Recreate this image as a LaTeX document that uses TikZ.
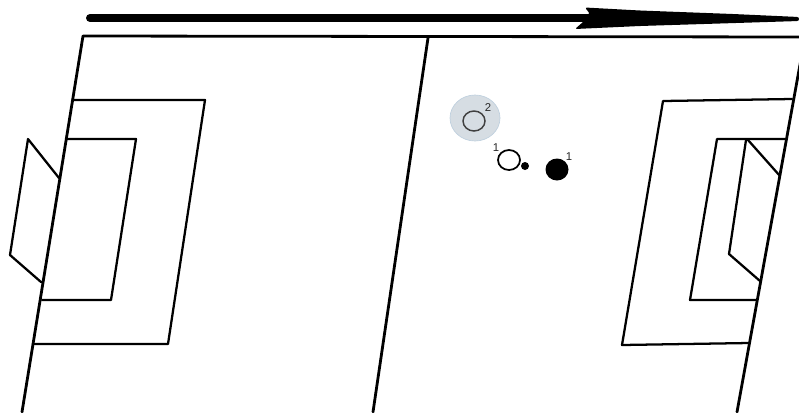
\documentclass[tikz,border=0pt]{standalone}
\usepackage{fontspec}
\setmainfont{Liberation Sans}
\definecolor{halofill}{HTML}{D6DDE3}
\definecolor{haloedge}{HTML}{BFD0DE}
\tikzset{
  wall/.style={draw=black,line width=2.1pt,line cap=round,line join=round},
  frame/.style={draw=black,line width=1.7pt,line cap=round,line join=round},
  sup/.style={font=\fontsize{8.5}{9}\selectfont,text=black!85,inner sep=0pt},
  ring/.style={draw=black!75,line width=1.1pt}
}
\begin{document}
\begin{tikzpicture}[x=0.75pt,y=-0.75pt]
\useasboundingbox (0,0) rectangle (799,412);
\begin{scope}
\clip (0,0) rectangle (799,412);
% direction arrow
\coordinate (arrowstart) at (90,18);
\coordinate (arrowend) at (590,18);
\draw[black,line width=6pt,line cap=round] (arrowstart) -- (arrowend);
\fill[black,rounded corners=1.5pt] (585,7.5) -- (640,10.5) -- (733,14) -- (799,17) -- (799,21) -- (720,23.5) -- (640,26) -- (575,29) -- (583,22) -- (590,14) -- cycle;
% walls
\coordinate (tl) at (83,36);
\coordinate (tr) at (805,37);
\coordinate (bl) at (22,412);
\coordinate (tm) at (428,38);
\coordinate (bm) at (373,412);
\coordinate (br) at (737,412);
\draw[wall] (bl) -- (tl) -- (tr);
\draw[wall] (tm) -- (bm);
\draw[wall] (tr) -- (br);
% left window
\draw[frame] (73,100) -- (205,100) -- (168,344) -- (33,344);
\draw[frame] (67,139) -- (136,139) -- (111,300) -- (42,300);
\draw[frame] (59,178) -- (28,139) -- (10,255) -- (41,282);
% right window
\draw[frame] (792,99) -- (663,101) -- (622,345) -- (749,343);
\draw[frame] (785,139) -- (717,139) -- (690,300) -- (757,300);
\draw[frame] (780,176) -- (748,140);
\draw[frame] (746,140) -- (729,254) -- (760,281);
\end{scope}
% symbols
\fill[halofill,draw=haloedge,line width=0.5pt] (475,118) ellipse [x radius=25,y radius=23];
\draw[ring] (474,121) ellipse [x radius=11,y radius=10];
\node[sup] (lab2) at (488,108) {2};
\draw[black,line width=1.3pt] (509,160) ellipse [x radius=11,y radius=10];
\node[sup] (lab1a) at (496,148) {1};
\fill[black] (525,166) circle [radius=4];
\fill[black] (557,169.5) ellipse [x radius=11.5,y radius=11];
\node[sup] (lab1b) at (569,157) {1};
\end{tikzpicture}
\end{document}
